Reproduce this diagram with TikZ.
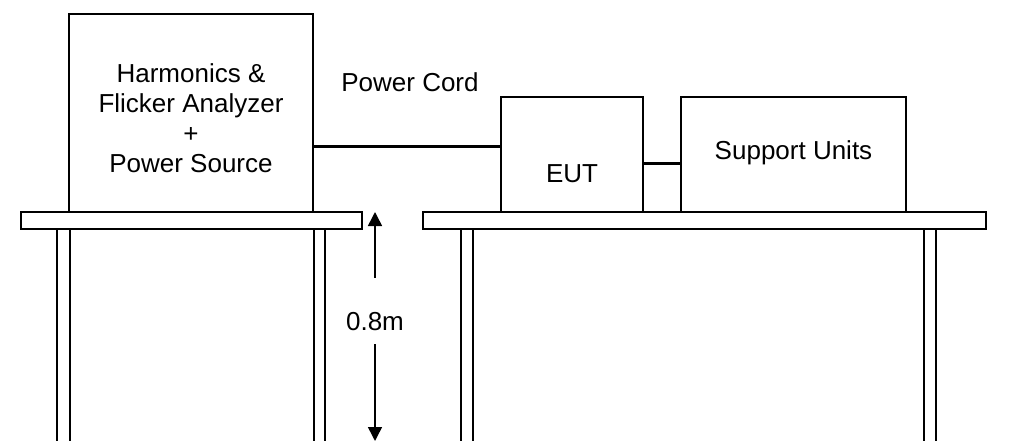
\documentclass[tikz,border=0pt]{standalone}
\usepackage{fontspec}
\setmainfont{Liberation Sans}
\usetikzlibrary{arrows.meta,positioning}
\tikzset{
  unitbox/.style  = {draw, line width=1.5pt, inner sep=0pt},
  tabletop/.style = {draw, line width=1.5pt, inner sep=0pt, minimum height=17pt},
  leg/.style      = {line width=1.5pt},
  cord/.style     = {line width=3pt},
  lab/.style      = {font=\fontsize{26}{30}\selectfont, align=center, inner sep=0pt},
  dim/.style      = {-{Triangle[length=14pt,width=14pt]}, line width=1.5pt},
}
\begin{document}
\begin{tikzpicture}[x=1pt,y=-1pt]
\useasboundingbox (0,0) rectangle (1019,441);
% equipment
\node[unitbox, minimum width=244pt, minimum height=198pt] (analyzer) at (191,113) {};
\node[unitbox, minimum width=142pt, minimum height=115pt] (eut) at (572,154.5) {};
\node[unitbox, minimum width=225pt, minimum height=115pt] (support) at (793.5,154.5) {};
\node[lab] (analyzertxt) at (191,118) {Harmonics \&\\Flicker Analyzer\\+\\Power Source};
\node[lab] (euttxt) at (572,174) {EUT};
\node[lab] (supporttxt) at (793.5,153) {Support Units};
\node[lab] (cordtxt) at (410,82) {Power Cord};
% cables
\draw[cord] ([yshift=-33pt]analyzer.east) -- ([yshift=8.5pt]eut.west);
\draw[cord] ([yshift=-8.5pt]eut.east) -- ([yshift=-8.5pt]support.west);
% tables
\node[tabletop, minimum width=341pt] (lefttable) at (191.5,220.5) {};
\node[tabletop, minimum width=563pt] (righttable) at (704.5,220.5) {};
\foreach \x in {57,70,314,325} \draw[leg] (\x,229) -- (\x,445);
\foreach \x in {461,473,924,936} \draw[leg] (\x,229) -- (\x,445);
% height
\node[lab] (height) at (375,322) {0.8m};
\coordinate (dimtop) at (375,212);
\coordinate (dimbot) at (375,441);
\draw[dim] ([yshift=35pt]height.north) -- (dimtop);
\draw[dim] ([yshift=-13pt]height.south) -- (dimbot);
\end{tikzpicture}
\end{document}
